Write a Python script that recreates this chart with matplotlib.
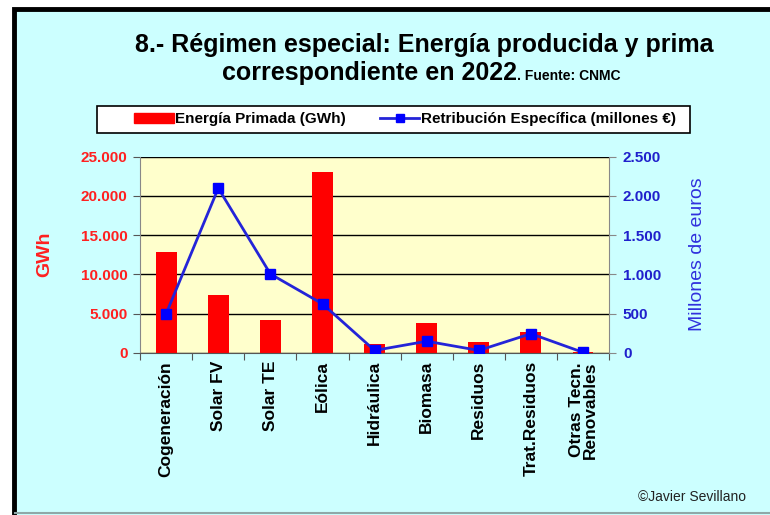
import numpy as np
import matplotlib
matplotlib.use('Agg')
import matplotlib.pyplot as plt
from matplotlib.patches import Rectangle
from matplotlib.lines import Line2D

plt.rcParams['font.family'] = ['Liberation Sans', 'DejaVu Sans']

categorias = ['Cogeneración', 'Solar FV', 'Solar TE', 'Eólica', 'Hidráulica',
              'Biomasa', 'Residuos', 'Trat.Residuos', 'Otras Tecn.\nRenovables']
energia_gwh = [12840, 7410, 4230, 23090, 1060, 3750, 1380, 2650, 120]
retribucion_meur = [500, 2097, 1004, 623, 30, 147, 30, 243, 5]
ticks_gwh = [0, 5000, 10000, 15000, 20000, 25000]
ticks_meur = [0, 500, 1000, 1500, 2000, 2500]

def miles(v):
    return f'{v:,.0f}'.replace(',', '.')

fig = plt.figure(figsize=(7.7, 5.15), dpi=100)
fig.patch.set_facecolor('white')
# fondo del grafico con marco negro
fig.patches.append(Rectangle((0.018, -0.02), 1.0, 1.003, transform=fig.transFigure,
                             facecolor='#CCFFFF', edgecolor='black', linewidth=3.5, zorder=-10))
fig.add_artist(Line2D([0.02, 1], [0.004, 0.004], transform=fig.transFigure,
                      color='#8FA8A8', linewidth=1.5, zorder=-9))

ax = fig.add_axes([0.182, 0.315, 0.609, 0.381])
ax.set_facecolor('#FFFFCC')
x = np.arange(len(categorias))
ax.bar(x, energia_gwh, width=0.4, color='#FF0000', zorder=2)
ax.set_ylim(0, 25000)
ax.set_xlim(-0.5, len(categorias) - 0.5)
ax.set_yticks(ticks_gwh)
ax.set_yticklabels([miles(t) for t in ticks_gwh], color='#FF2020', fontweight='bold', fontsize=11)
ax.grid(axis='y', color='black', linewidth=1, zorder=1)
ax.set_axisbelow(True)
ax.set_xticks(np.arange(len(categorias) + 1) - 0.5, minor=False)
ax.set_xticklabels([])
ax.set_xticks(x, minor=True)
ax.set_xticklabels(categorias, minor=True, rotation=90, fontweight='bold', fontsize=12.5,
                   va='top', ha='center', linespacing=0.9)
ax.tick_params(axis='x', which='minor', length=0, pad=6)
ax.tick_params(axis='x', which='major', length=5, direction='out', color='#555555')
ax.tick_params(axis='y', length=5, color='#555555', pad=4)
for s in ['top', 'right']:
    ax.spines[s].set_visible(False)
ax.spines['left'].set_color('#888888')
ax.spines['bottom'].set_color('#555555')
ax.set_ylabel('GWh', color='#FF2020', fontweight='bold', fontsize=14, labelpad=20)

ax2 = ax.twinx()
ax2.plot(x, retribucion_meur, color='#2424D8', linewidth=2, marker='s', markersize=7,
         markerfacecolor='#0000FF', markeredgecolor='#0000FF', zorder=3)
ax2.set_ylim(0, 2500)
ax2.set_yticks(ticks_meur)
ax2.set_yticklabels([miles(t) for t in ticks_meur], color='#2020CC', fontweight='bold', fontsize=11)
ax2.tick_params(axis='y', length=5, color='#888888', pad=5)
for s in ['top', 'left', 'bottom']:
    ax2.spines[s].set_visible(False)
ax2.spines['right'].set_color('#888888')
ax2.set_ylabel('Millones de euros', color='#3030DD', fontsize=14, labelpad=20)

fig.text(0.551, 0.912, '8.- Régimen especial: Energía producida y prima',
         ha='center', va='center', fontsize=18, fontweight='bold')
fig.text(0.671, 0.858, 'correspondiente en 2022', ha='right', va='center',
         fontsize=18, fontweight='bold')
fig.text(0.671, 0.852, '. Fuente: CNMC', ha='left', va='center', fontsize=10, fontweight='bold')

# caja de la leyenda
fig.patches.append(Rectangle((97 / 770, 1 - 133 / 515), 593 / 770, 27 / 515,
                             transform=fig.transFigure, facecolor='white',
                             edgecolor='black', linewidth=1.2, zorder=-5))
handles = [Rectangle((0, 0), 1, 1, color='#FF0000'),
           Line2D([], [], color='#2424D8', linewidth=2, marker='s', markersize=6,
                  markerfacecolor='#0000FF', markeredgecolor='#0000FF')]
leg = fig.legend(handles, ['Energía Primada (GWh)', 'Retribución Específica (millones €)'],
                 loc='center', bbox_to_anchor=(0.526, 0.768), ncol=2, frameon=False,
                 prop={'weight': 'bold', 'size': 11}, handlelength=2.6,
                 handletextpad=0.1, columnspacing=2.2, borderpad=0.2)

fig.text(0.899, 0.035, '©Javier Sevillano', ha='center', va='center', fontsize=10, color='#222222')

fig.savefig('out.png', dpi=100, facecolor=fig.get_facecolor())
